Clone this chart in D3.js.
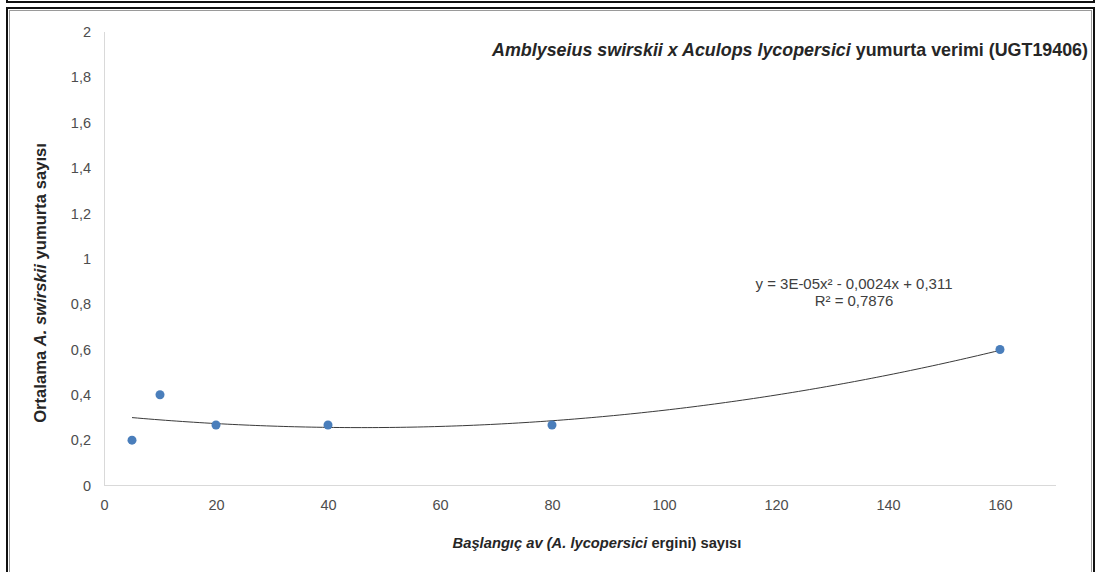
<!DOCTYPE html>
<html>
<head>
<meta charset="utf-8">
<script src="https://cdn.jsdelivr.net/npm/d3@7"></script>
<style>
  html, body { margin: 0; padding: 0; background: #fff; }
  svg { display: block; font-family: "Liberation Sans", Arial, sans-serif; }
</style>
</head>
<body>
<svg id="chart" width="1097" height="572"></svg>
<script>
// Starting prey count (x) and mean egg count (y)
const preyCounts = [5, 10, 20, 40, 80, 160];
const eggMeans = [0.2, 0.4, 0.2667, 0.2667, 0.2667, 0.6];
const xTicks = [0, 20, 40, 60, 80, 100, 120, 140, 160];
const yTicks = [0, 0.2, 0.4, 0.6, 0.8, 1, 1.2, 1.4, 1.6, 1.8, 2];
const equationLines = ["y = 3E-05x\u00B2 - 0,0024x + 0,311", "R\u00B2 = 0,7876"];

const svg = d3.select("#chart");

// Scale a text element's font size so it spans the given width
function fitSize(sel, width) {
  const node = sel.node();
  const len = node.getComputedTextLength();
  const fs = parseFloat(sel.attr("font-size"));
  sel.attr("font-size", (fs * width / len).toFixed(2));
}

// Frames: bottom edge of the box above, and the chart box
svg.append("rect").attr("x", 7).attr("y", -10).attr("width", 1087).attr("height", 12)
  .attr("fill", "none").attr("stroke", "#111").attr("stroke-width", 2);
svg.append("rect").attr("x", 7).attr("y", 8).attr("width", 1087).attr("height", 600)
  .attr("fill", "none").attr("stroke", "#111").attr("stroke-width", 2);
svg.append("rect").attr("x", 9.5).attr("y", 10.5).attr("width", 1082).attr("height", 600)
  .attr("fill", "none").attr("stroke", "#9a9a9a").attr("stroke-width", 1);

const x = d3.scaleLinear().domain([0, 170]).range([104, 1056]);
const y = d3.scaleLinear().domain([0, 2]).range([485.5, 32]);

const fmt = v => String(+v.toFixed(1)).replace(".", ",");

// Axis lines
svg.append("line").attr("x1", 104.5).attr("x2", 104.5).attr("y1", 32).attr("y2", 485.5)
  .attr("stroke", "#d9d9d9").attr("stroke-width", 1);
svg.append("line").attr("x1", 104).attr("x2", 1056).attr("y1", 485.5).attr("y2", 485.5)
  .attr("stroke", "#d9d9d9").attr("stroke-width", 1);

// Tick labels via D3 axes
const yAxis = svg.append("g").attr("transform", "translate(104,0)")
  .call(d3.axisLeft(y).tickValues(yTicks).tickFormat(fmt).tickSize(0).tickPadding(13));
const xAxis = svg.append("g").attr("transform", "translate(0,485.5)")
  .call(d3.axisBottom(x).tickValues(xTicks).tickFormat(d3.format("d")).tickSize(0).tickPadding(14));
[yAxis, xAxis].forEach(g => {
  g.select(".domain").remove();
  g.selectAll("text").attr("fill", "#4d4d4d").attr("font-size", 14.5)
    .attr("font-family", "'Liberation Sans', Arial, sans-serif");
});

// Second-order polynomial least-squares trendline
function polyFit2(xs, ys) {
  const n = xs.length;
  let s = [0, 0, 0, 0, 0], t = [0, 0, 0];
  for (let i = 0; i < n; i++) {
    let p = 1;
    for (let k = 0; k < 5; k++) { s[k] += p; p *= xs[i]; }
    t[0] += ys[i]; t[1] += ys[i] * xs[i]; t[2] += ys[i] * xs[i] * xs[i];
  }
  const M = [[s[0], s[1], s[2], t[0]], [s[1], s[2], s[3], t[1]], [s[2], s[3], s[4], t[2]]];
  for (let c = 0; c < 3; c++) {
    for (let r = c + 1; r < 3; r++) {
      const f = M[r][c] / M[c][c];
      for (let k = c; k < 4; k++) M[r][k] -= f * M[c][k];
    }
  }
  const b = [0, 0, 0];
  for (let r = 2; r >= 0; r--) {
    let v = M[r][3];
    for (let k = r + 1; k < 3; k++) v -= M[r][k] * b[k];
    b[r] = v / M[r][r];
  }
  return b; // c0, c1, c2
}
const coef = polyFit2(preyCounts, eggMeans);
const trend = d3.range(d3.min(preyCounts), d3.max(preyCounts) + 0.5, 1)
  .map(v => [v, coef[0] + coef[1] * v + coef[2] * v * v]);
svg.append("path").datum(trend)
  .attr("fill", "none").attr("stroke", "#3a3a3a").attr("stroke-width", 1)
  .attr("d", d3.line().x(d => x(d[0])).y(d => y(d[1])));

// Data points
svg.append("g").selectAll("circle").data(preyCounts).join("circle")
  .attr("cx", (d) => x(d)).attr("cy", (d, i) => y(eggMeans[i])).attr("r", 4.5)
  .attr("fill", "#4a7ebb");

// Trendline equation
const eq = svg.append("g").attr("font-size", 14.5).attr("fill", "#404040");
const eq1 = eq.append("text").attr("x", 854).attr("y", 289).attr("text-anchor", "middle")
  .attr("font-size", 14.5).text(equationLines[0]);
fitSize(eq1, 197);
eq.append("text").attr("x", 854).attr("y", 306).attr("text-anchor", "middle")
  .attr("font-size", eq1.attr("font-size")).text(equationLines[1]);

// Chart title
const title = svg.append("text").attr("x", 1088).attr("y", 56)
  .attr("text-anchor", "end").attr("font-size", 16).attr("font-weight", "bold").attr("fill", "#262626");
title.append("tspan").attr("font-style", "italic").text("Amblyseius swirskii x Aculops lycopersici");
title.append("tspan").text(" yumurta verimi (UGT19406)");
fitSize(title, 596);

// X axis title
const xt = svg.append("text").attr("x", 597).attr("y", 548)
  .attr("text-anchor", "middle").attr("font-size", 13).attr("font-weight", "bold").attr("fill", "#262626");
xt.append("tspan").attr("font-style", "italic").text("Başlangıç av (A. lycopersici");
xt.append("tspan").text(" ergini) sayısı");
fitSize(xt, 289);

// Y axis title
const yt = svg.append("text").attr("transform", "translate(46,283) rotate(-90)")
  .attr("text-anchor", "middle").attr("font-size", 13).attr("font-weight", "bold").attr("fill", "#262626");
yt.append("tspan").text("Ortalama ");
yt.append("tspan").attr("font-style", "italic").text("A. swirskii");
yt.append("tspan").text(" yumurta sayısı");
fitSize(yt, 280);
</script>
</body>
</html>
